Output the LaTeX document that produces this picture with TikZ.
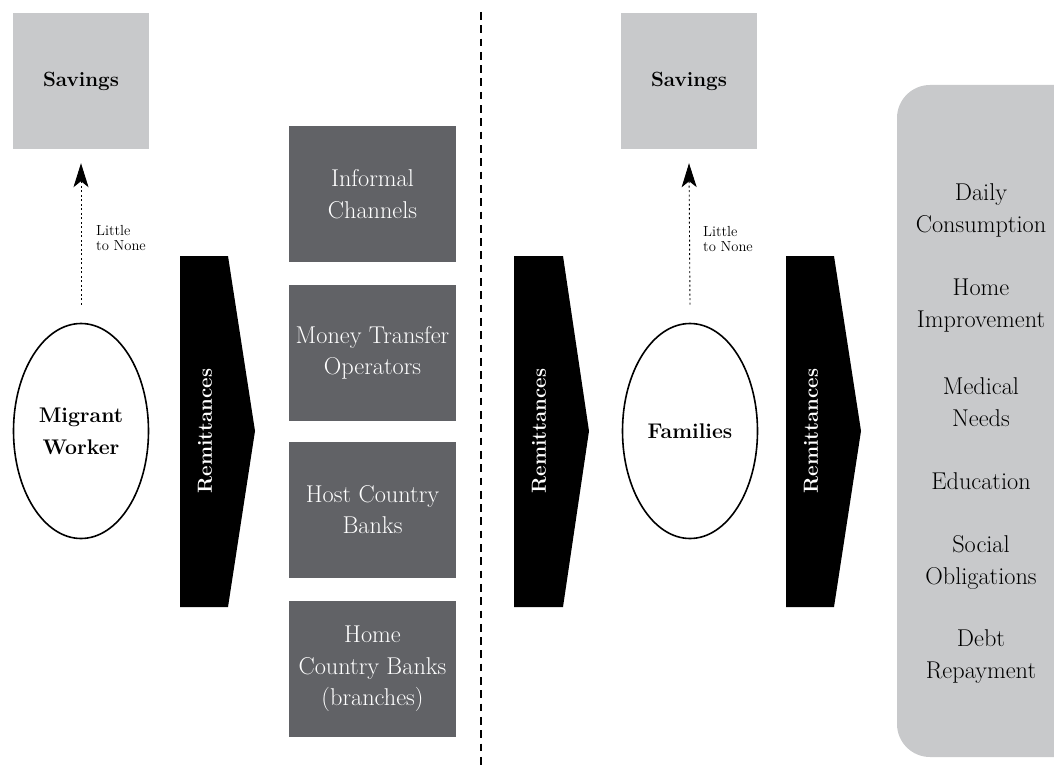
\documentclass[tikz,border=0pt]{standalone}
\usetikzlibrary{arrows.meta,shapes.geometric}
\definecolor{lightbox}{HTML}{C8C9CB}
\definecolor{darkbox}{HTML}{616266}
\tikzset{
  savebox/.style={fill=lightbox, minimum width=136pt, minimum height=136pt, inner sep=0pt, font=\fontsize{20.6}{30}\selectfont\bfseries},
  chanbox/.style={fill=darkbox, text=white, minimum width=167pt, minimum height=136pt, inner sep=0pt, align=center, font=\fontsize{24.3}{31.5}\selectfont},
  actor/.style={ellipse, draw=black, line width=1.6pt, minimum width=135pt, minimum height=215pt, inner sep=0pt, align=center, font=\fontsize{21.2}{32}\selectfont\bfseries},
  remit/.style={rotate=90, text=white, font=\fontsize{20.4}{28}\selectfont\bfseries, inner sep=0pt},
  usetext/.style={align=center, font=\fontsize{24.3}{32}\selectfont, inner sep=0pt},
  smalllabel/.style={anchor=west, align=left, font=\fontsize{14.6}{15.5}\selectfont, inner sep=0pt},
  dotarrow/.style={line width=0.9pt, dash pattern=on 2pt off 2.5pt, -{Stealth[length=24pt,width=15pt,inset=6pt]}},
  divider/.style={line width=2.7pt, dash pattern=on 7.7pt off 5.6pt}
}
\begin{document}
\begin{tikzpicture}[x=1pt,y=-1pt]
\useasboundingbox (0,0) rectangle (1054,765);

% divider
\coordinate (dtop) at (481,12);
\coordinate (dbot) at (481,765);
\draw[divider] (dtop) -- (dbot);

% left side
\node[savebox] (sav1) at (81,81) {Savings};
\node[actor] (mw) at (81,431) {Migrant\\Worker};
\draw[dotarrow] ([yshift=18pt]mw.north) -- ([yshift=-14pt]sav1.south);
\node[smalllabel] (lt1) at (96,238) {Little\\to None};

\fill (180,256) -- (228,256) -- (255,431) -- (228,607) -- (180,607) -- cycle;
\node[remit] (r1) at (205,431) {Remittances};

\node[chanbox] (c1) at (372.5,194) {Informal\\Channels};
\node[chanbox] (c2) at (372.5,353) {Money Transfer\\Operators};
\node[chanbox] (c3) at (372.5,509.5) {Host Country\\Banks};
\node[chanbox] (c4) at (372.5,669) {Home\\Country Banks\\(branches)};

% right side
\fill (514,256) -- (563,256) -- (589,431) -- (563,607) -- (514,607) -- cycle;
\node[remit] (r2) at (539,431) {Remittances};

\node[savebox] (sav2) at (689,81) {Savings};
\node[actor] (fam) at (690,431) {Families};
\draw[dotarrow] ([yshift=18pt]fam.north) -- ([yshift=-14pt]sav2.south);
\node[smalllabel] (lt2) at (703,239) {Little\\to None};

\fill (786,256) -- (834,256) -- (861,431) -- (834,607) -- (786,607) -- cycle;
\node[remit] (r3) at (811,431) {Remittances};

\fill[lightbox, rounded corners=33pt] (897,85) rectangle (1100,757);
\node[usetext] (u1) at (981,210) {Daily\\Consumption};
\node[usetext] (u2) at (981,306) {Home\\Improvement};
\node[usetext] (u3) at (981,402) {Medical\\Needs};
\node[usetext] (u4) at (981,481) {Education};
\node[usetext] (u5) at (981,562) {Social\\Obligations};
\node[usetext] (u6) at (981,657) {Debt\\Repayment};
\end{tikzpicture}
\end{document}
